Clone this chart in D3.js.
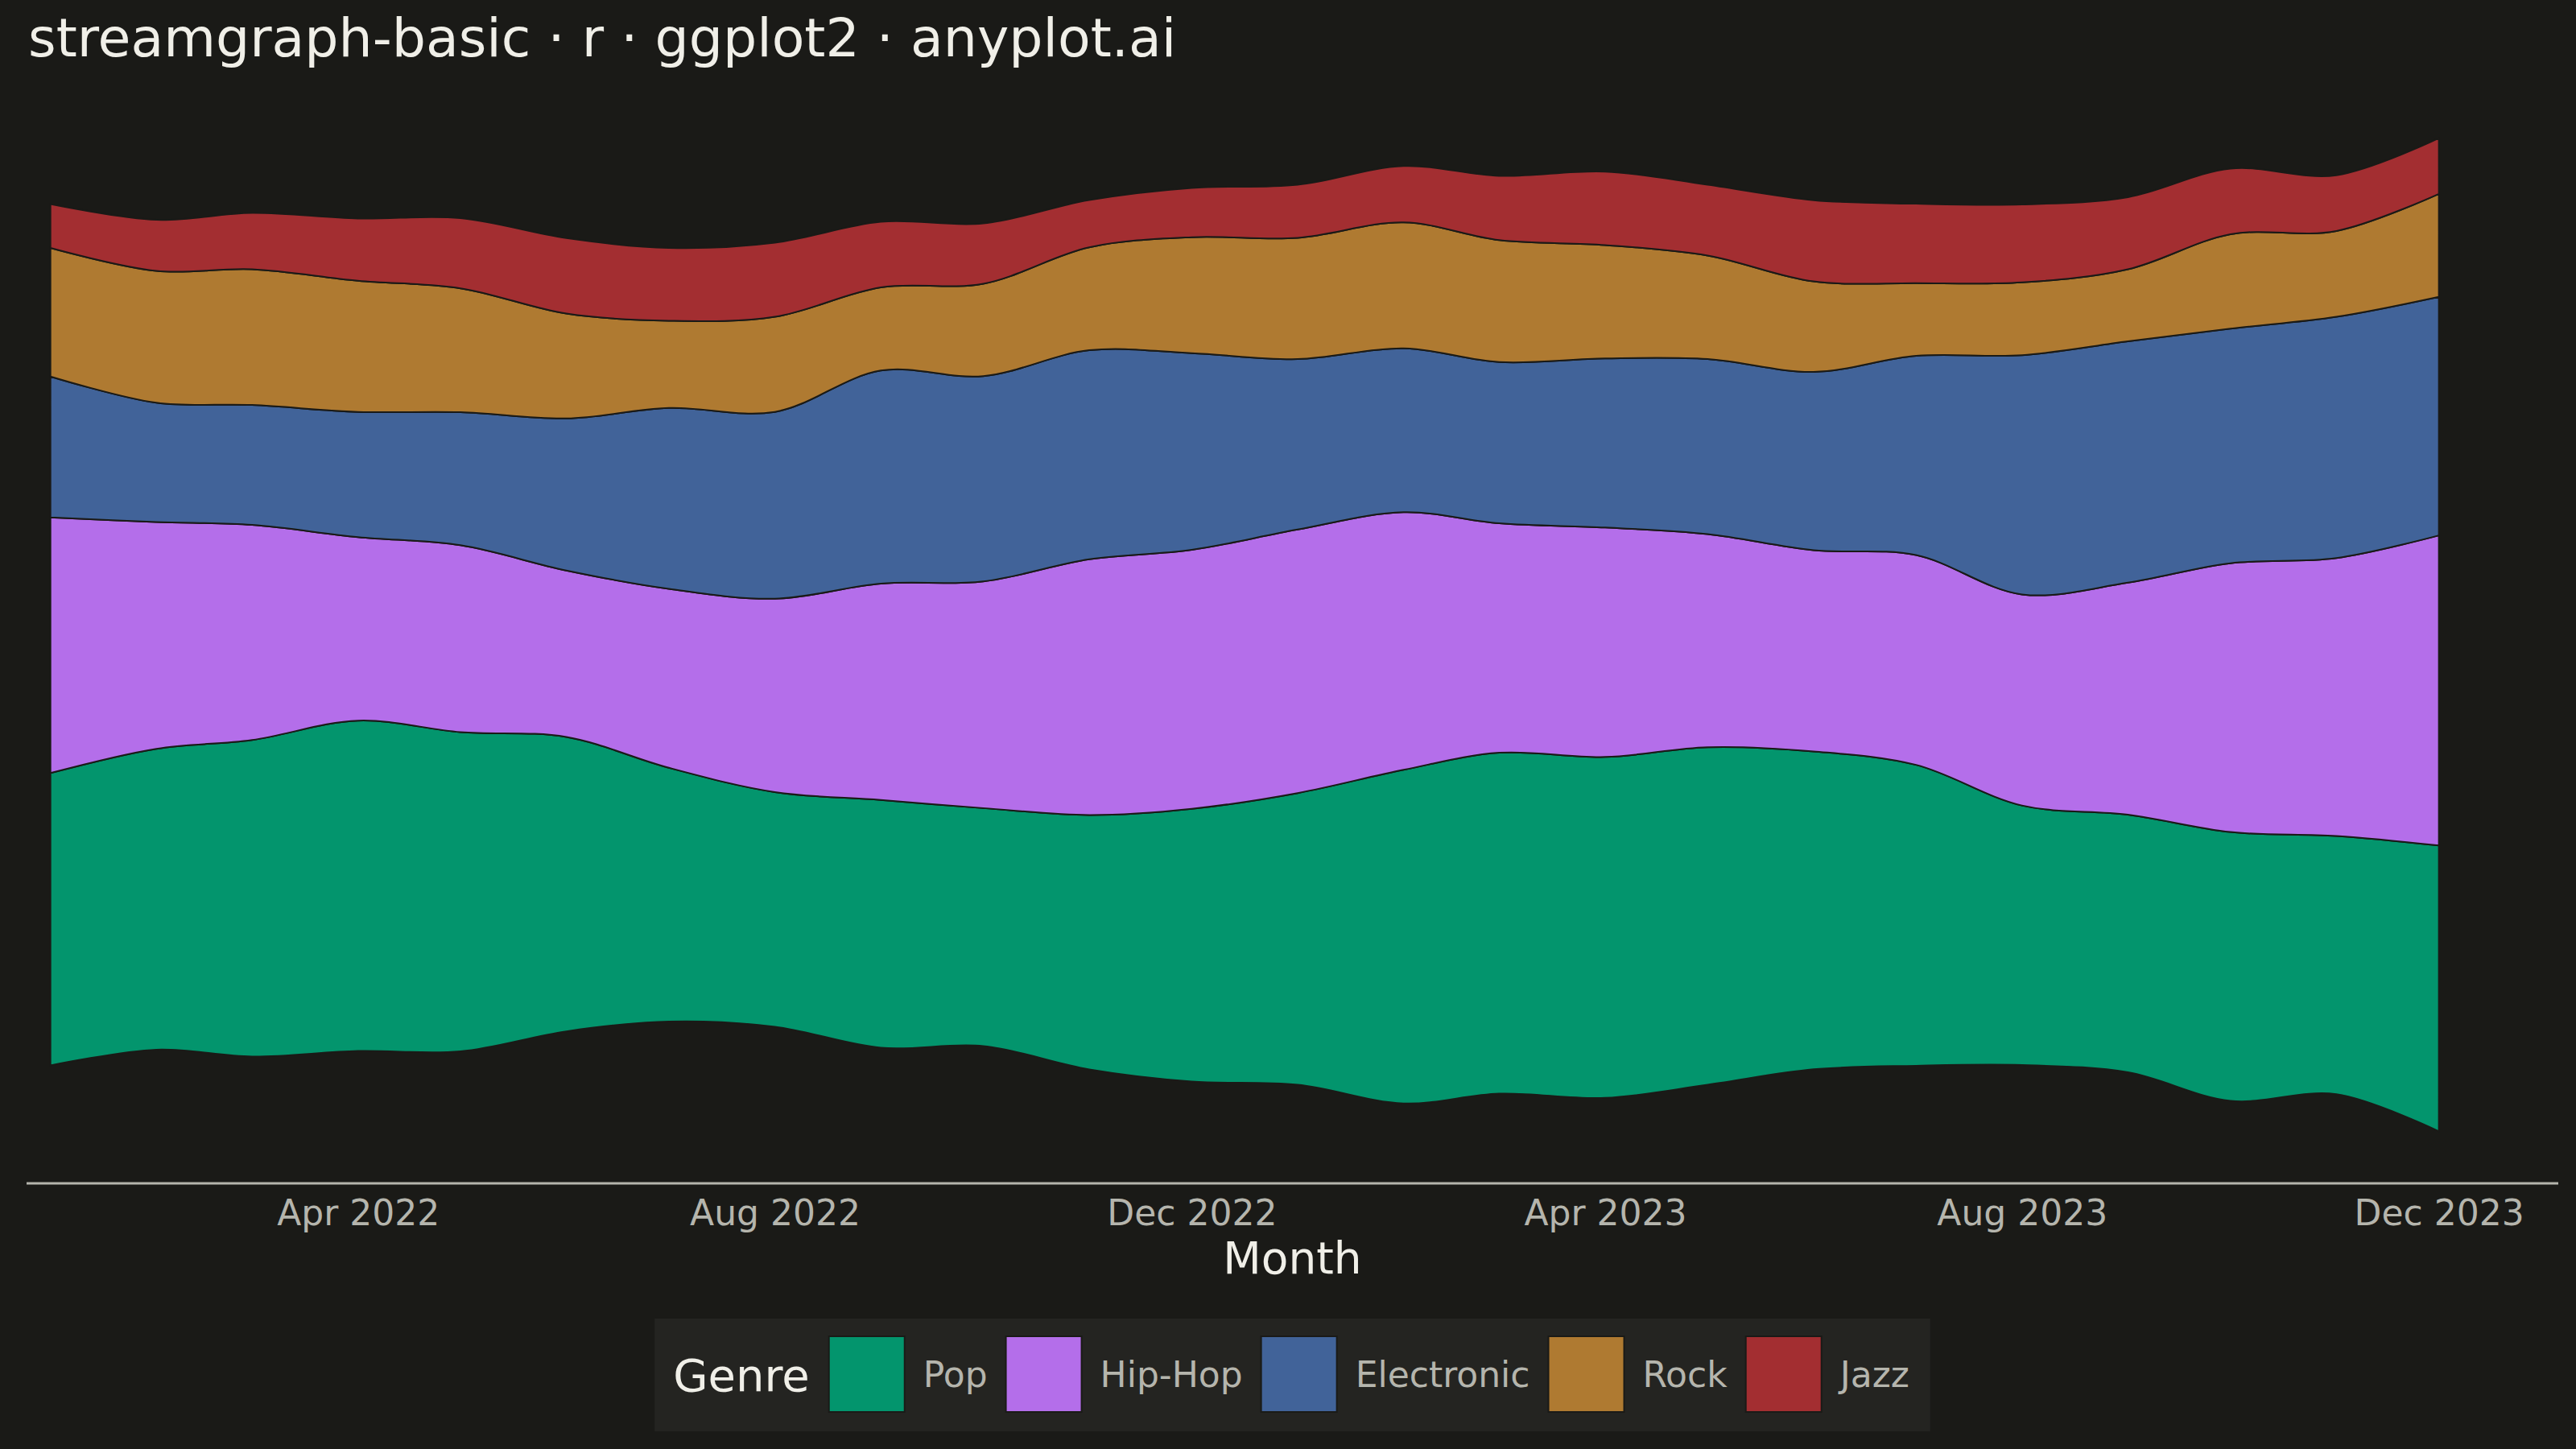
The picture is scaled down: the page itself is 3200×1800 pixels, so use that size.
<!DOCTYPE html>
<html>
<head>
<meta charset="utf-8">
<script src="https://cdn.jsdelivr.net/npm/d3@7"></script>
<style>
  html, body { margin: 0; padding: 0; background: #1A1A17; }
  svg { display: block; }
  text { font-family: "DejaVu Sans", sans-serif; }
</style>
</head>
<body>
<div id="chart"></div>
<script>
// data (monthly streams, arbitrary units)
const months = [
  "2022-01-01", "2022-02-01", "2022-03-01", "2022-04-01", "2022-05-01", "2022-06-01",
  "2022-07-01", "2022-08-01", "2022-09-01", "2022-10-01", "2022-11-01", "2022-12-01",
  "2023-01-01", "2023-02-01", "2023-03-01", "2023-04-01", "2023-05-01", "2023-06-01",
  "2023-07-01", "2023-08-01", "2023-09-01", "2023-10-01", "2023-11-01", "2023-12-01"
];
const genres = ["Pop", "Hip-Hop", "Electronic", "Rock", "Jazz"];
const pop        = [44.6, 45.9, 48.3, 50.4, 48.7, 44.9, 38.7, 35.8, 37.8, 36.3, 38.8, 41.6,
                    44.5, 50.9, 52.0, 52.0, 51.5, 48.5, 45.9, 39.6, 39.3, 41.0, 39.4, 43.6];
const hipHop     = [39.0, 34.6, 32.8, 28.0, 28.5, 25.4, 27.3, 29.5, 33.0, 34.6, 39.0, 39.5,
                    40.2, 39.3, 35.0, 35.0, 32.5, 30.7, 32.0, 32.2, 35.4, 41.0, 42.4, 47.3];
const electronic = [21.5, 18.2, 18.3, 19.1, 20.3, 23.2, 27.6, 28.5, 32.5, 31.3, 31.9, 30.0,
                    26.0, 25.0, 24.6, 25.8, 26.7, 27.2, 30.4, 36.5, 36.8, 35.8, 36.8, 36.4];
const rock       = [19.6, 20.1, 20.7, 20.0, 18.9, 16.0, 13.3, 14.5, 12.7, 14.1, 15.7, 17.7,
                    18.5, 19.2, 18.6, 17.3, 15.8, 13.8, 11.1, 11.1, 11.0, 14.4, 13.1, 15.7];
const jazz       = [6.7, 7.8, 8.6, 9.5, 10.7, 11.5, 11.1, 11.3, 10.0, 9.2, 7.2, 7.5,
                    8.1, 8.6, 9.8, 11.2, 10.8, 12.4, 12.1, 11.9, 11.0, 10.0, 8.5, 8.5];
const tickDates = ["2022-04-01", "2022-08-01", "2022-12-01", "2023-04-01", "2023-08-01", "2023-12-01"];
const colors = ["#03956D", "#B46EEA", "#416399", "#AF7A31", "#A32E31"];

const W = 3200, H = 1800;
const bg = "#1A1A17";
const textMain = "#F0EFE8";
const textSoft = "#B5B5AD";

// panel box
const panel = { left: 33, right: 3178, top: 110, bottom: 1467 };

const parse = d3.timeParse("%Y-%m-%d");
const series = { "Pop": pop, "Hip-Hop": hipHop, "Electronic": electronic, "Rock": rock, "Jazz": jazz };
const rows = months.map((m, i) => {
  const r = { date: parse(m) };
  genres.forEach(g => { r[g] = series[g][i]; });
  return r;
});

const stack = d3.stack()
  .keys(genres)
  .order(d3.stackOrderNone)
  .offset(d3.stackOffsetSilhouette);
const layers = stack(rows);

// x scale with ggplot-like expansion (1% left, 5% right)
const d0 = rows[0].date, d1 = rows[rows.length - 1].date;
const span = d1 - d0;
const x = d3.scaleTime()
  .domain([new Date(+d0 - span * 0.01), new Date(+d1 + span * 0.05)])
  .range([panel.left, panel.right]);

const maxTotal = d3.max(rows, r => d3.sum(genres, g => r[g]));
const half = maxTotal / 2 + maxTotal * 0.05;
const y = d3.scaleLinear()
  .domain([-half, half])
  .range([panel.bottom, panel.top]);

const svg = d3.select("#chart")
  .append("svg")
  .attr("width", W)
  .attr("height", H)
  .style("background-color", bg);

svg.append("rect")
  .attr("width", W).attr("height", H)
  .attr("fill", bg);

const area = d3.area()
  .x(d => x(d.data.date))
  .y0(d => y(d[0]))
  .y1(d => y(d[1]))
  .curve(d3.curveCatmullRom);

svg.append("g")
  .selectAll("path")
  .data(layers)
  .enter()
  .append("path")
  .attr("d", area)
  .attr("fill", (d, i) => colors[i])
  .attr("stroke", "#1A1A17")
  .attr("stroke-width", 2);

// x axis
const xAxis = d3.axisBottom(x)
  .tickValues(tickDates.map(parse))
  .tickFormat(d3.timeFormat("%b %Y"))
  .tickSize(0)
  .tickPadding(21);

const axisG = svg.append("g")
  .attr("transform", `translate(0,${panel.bottom + 3})`)
  .call(xAxis);
axisG.select(".domain").remove();
axisG.selectAll("text")
  .attr("fill", textSoft)
  .style("font-size", "44px")
  .style("font-family", "DejaVu Sans, sans-serif");

svg.append("line")
  .attr("x1", panel.left).attr("x2", panel.right)
  .attr("y1", panel.bottom + 3).attr("y2", panel.bottom + 3)
  .attr("stroke", textSoft)
  .attr("stroke-width", 3);

svg.append("text")
  .attr("x", (panel.left + panel.right) / 2)
  .attr("y", 1582)
  .attr("text-anchor", "middle")
  .attr("fill", textMain)
  .style("font-size", "55px")
  .text("Month");

// title
svg.append("text")
  .attr("x", 35)
  .attr("y", 70)
  .attr("fill", textMain)
  .style("font-size", "66.5px")
  .text("streamgraph-basic · r · ggplot2 · anyplot.ai");

// legend
const legend = svg.append("g");
const box = legend.append("rect")
  .attr("fill", "#242421");
const keySize = 94;
const keyMid = 1707;
let cx = 0;
const gTitle = legend.append("text")
  .attr("x", cx)
  .attr("y", keyMid + 21)
  .attr("fill", textMain)
  .style("font-size", "56px")
  .text("Genre");
cx += gTitle.node().getComputedTextLength() + 24;

genres.forEach((g, i) => {
  legend.append("rect")
    .attr("x", cx)
    .attr("y", keyMid - keySize / 2)
    .attr("width", keySize)
    .attr("height", keySize)
    .attr("fill", colors[i])
    .attr("stroke", "#1A1A17")
    .attr("stroke-width", 2);
  cx += keySize + 23;
  const t = legend.append("text")
    .attr("x", cx)
    .attr("y", keyMid + 16)
    .attr("fill", textSoft)
    .style("font-size", "44px")
    .text(g);
  cx += t.node().getComputedTextLength();
  if (i < genres.length - 1) cx += 23;
});

const padL = 23, padR = 26;
box.attr("x", -padL)
  .attr("y", 1638)
  .attr("width", cx + padL + padR)
  .attr("height", 140);
const legendW = cx + padL + padR;
const legendLeft = (panel.left + panel.right) / 2 - legendW / 2;
legend.attr("transform", `translate(${legendLeft + padL},0)`);
</script>
</body>
</html>
